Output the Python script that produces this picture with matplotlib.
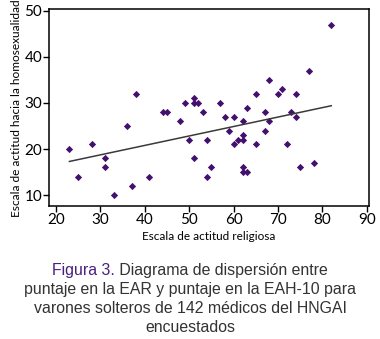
import numpy as np
import matplotlib.pyplot as plt

# puntaje EAR (x) vs puntaje EAH-10 (y)
ear = [23, 25, 28, 31, 31, 33, 36, 37, 38, 41, 44, 45, 48, 49, 50, 51, 51, 52,
       51, 53, 54, 54, 55, 57, 58, 59, 60, 60, 61, 62, 62, 62, 62, 62, 63, 63,
       65, 65, 67, 67, 68, 68, 70, 71, 72, 73, 74, 74, 75, 77, 78, 82]
eah = [20, 14, 21, 18, 16, 10, 25, 12, 32, 14, 28, 28, 26, 30, 22, 31, 30, 30,
       18, 28, 22, 14, 16, 30, 27, 24, 27, 21, 22, 26, 23, 22, 16, 15, 15, 29,
       32, 21, 28, 24, 35, 26, 32, 33, 21, 28, 32, 27, 16, 37, 17, 47]

# regression line end points
trend_x = [23, 82]
trend_y = [17.3, 29.4]

xticks = [20, 30, 40, 50, 60, 70, 80, 90]
yticks = [10, 20, 30, 40, 50]

fig = plt.figure(figsize=(3.8, 3.39), dpi=100)
ax = fig.add_axes([0.129, 0.392, 0.842, 0.580])

ax.plot(ear, eah, linestyle='none', marker='D', markersize=3.1,
        color='#44106e', markeredgewidth=0.6)
ax.plot(trend_x, trend_y, color='#3a3a3a', linewidth=1.1)

ax.set_xlim(18.4, 90.5)
ax.set_ylim(7.6, 50.3)
ax.set_xticks(xticks)
ax.set_yticks(yticks)
ax.tick_params(direction='out', length=4, width=1, labelsize=11, pad=1,
               colors='black')
for lab in ax.get_xticklabels() + ax.get_yticklabels():
    lab.set_family('Lato')
for s in ax.spines.values():
    s.set_linewidth(1.1)

ax.set_xlabel('Escala de actitud religiosa', fontsize=8.5, family='Lato',
              labelpad=3)
ax.set_ylabel('Escala de actitud hacia la homosexualidad', fontsize=8.6,
              family='Lato', labelpad=2)

# caption
cap_fs = 11.4
t1 = fig.text(0.5, 0.203, 'Figura 3.', color='#4a1f80', fontsize=cap_fs,
              family='Liberation Sans', ha='left', va='center')
t2 = fig.text(0.5, 0.203, ' Diagrama de dispersión entre', color='#333333',
              fontsize=cap_fs, family='Liberation Sans', ha='left', va='center')
r = fig.canvas.get_renderer()
w1 = t1.get_window_extent(r).width / fig.bbox.width
w2 = t2.get_window_extent(r).width / fig.bbox.width
x0 = 0.5 - (w1 + w2) / 2
t1.set_x(x0)
t2.set_x(x0 + w1)

caption = ['puntaje en la EAR y puntaje en la EAH-10 para',
           'varones solteros de 142 médicos del HNGAI',
           'encuestados']
for i, line in enumerate(caption):
    fig.text(0.5, 0.145 - i * 0.055, line, color='#333333', fontsize=cap_fs,
             family='Liberation Sans', ha='center', va='center')

fig.savefig('out.png', dpi=100)
